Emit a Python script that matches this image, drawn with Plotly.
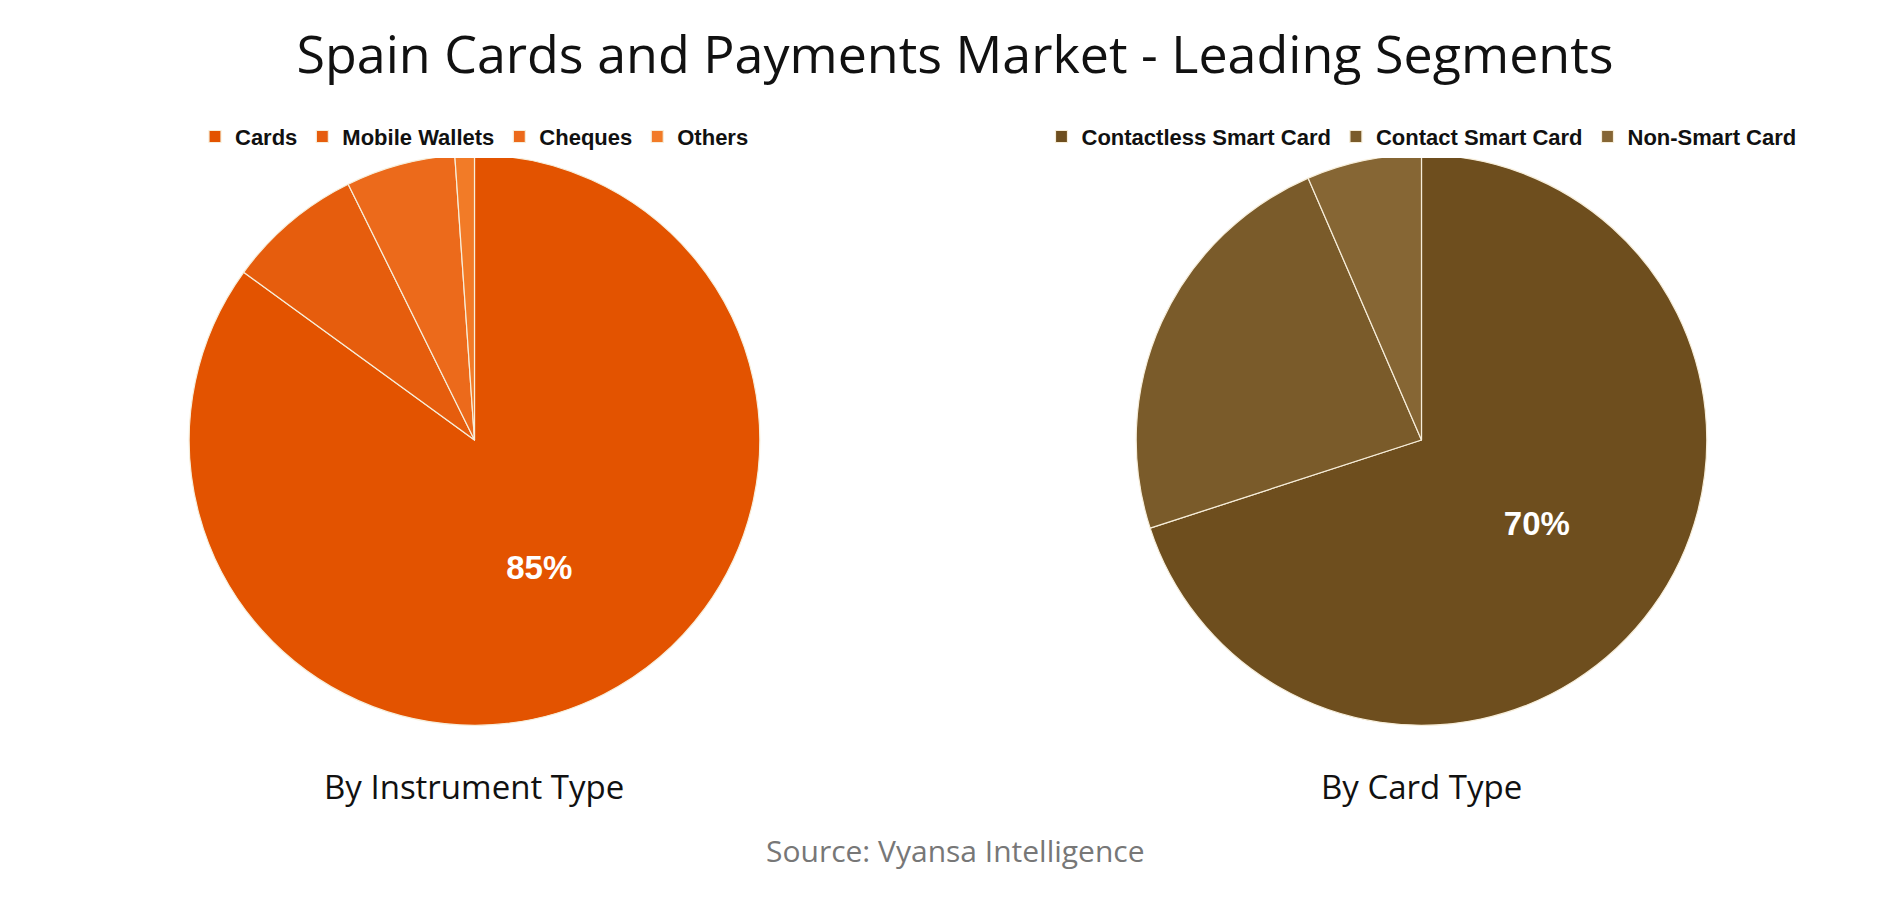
import plotly.graph_objects as go

# dados
instrument_labels = ["Cards", "Mobile Wallets", "Cheques", "Others"]
instrument_share = [85.0, 7.7, 6.2, 1.1]
instrument_colors = ["#E35300", "#E65D0D", "#EC6A1B", "#F27B27"]

card_labels = ["Contactless Smart Card", "Contact Smart Card", "Non-Smart Card"]
card_share = [70.0, 23.5, 6.5]
card_colors = ["#6E4E1E", "#7A5B2A", "#866634"]

title_text = "Spain Cards and Payments Market - Leading Segments"
subtitles = ["By Instrument Type", "By Card Type"]
source_text = "Source: Vyansa Intelligence"


def only_max(values):
    # so a maior fatia recebe rotulo
    top = max(values)
    return [f"{v:.0f}%" if v == top else "" for v in values]


pie_y = [0.203, 0.837]

fig = go.Figure()

fig.add_trace(go.Pie(
    labels=instrument_labels,
    values=instrument_share,
    text=only_max(instrument_share),
    textinfo="text",
    textposition="inside",
    insidetextorientation="horizontal",
    textfont=dict(family="Liberation Sans", size=33, color="white", weight="bold"),
    marker=dict(colors=instrument_colors, line=dict(color="#F7EEDA", width=1.2)),
    sort=False,
    direction="clockwise",
    hoverinfo="label+percent",
    domain=dict(x=[0.0, 0.4926], y=pie_y),
    legend="legend",
))

fig.add_trace(go.Pie(
    labels=card_labels,
    values=card_share,
    text=only_max(card_share),
    textinfo="text",
    textposition="inside",
    insidetextorientation="horizontal",
    textfont=dict(family="Liberation Sans", size=33, color="white", weight="bold"),
    marker=dict(colors=card_colors, line=dict(color="#F7EEDA", width=1.2)),
    sort=False,
    direction="clockwise",
    hoverinfo="label+percent",
    domain=dict(x=[0.5, 0.9926], y=pie_y),
    legend="legend2",
))

legend_font = dict(family="Liberation Sans", size=22, color="#111111", weight="bold")

fig.update_layout(
    width=1894,
    height=900,
    margin=dict(l=0, r=0, t=0, b=0),
    paper_bgcolor="white",
    plot_bgcolor="white",
    title=dict(
        text=title_text,
        x=0.5, xanchor="center",
        y=0.948, yanchor="middle",
        font=dict(family="Open Sans", size=52, color="#111111"),
    ),
    legend=dict(
        orientation="h", x=0.2463, xanchor="center", y=0.857, yanchor="middle",
        font=legend_font, itemwidth=30, traceorder="normal",
    ),
    legend2=dict(
        orientation="h", x=0.7463, xanchor="center", y=0.857, yanchor="middle",
        font=legend_font, itemwidth=30, traceorder="normal",
    ),
    annotations=[
        dict(x=0.2463, y=1 - 778 / 900, xref="paper", yref="paper",
             text=subtitles[0], showarrow=False, xanchor="center", yanchor="middle",
             font=dict(family="Open Sans", size=33, color="#111111")),
        dict(x=0.7463, y=1 - 778 / 900, xref="paper", yref="paper",
             text=subtitles[1], showarrow=False, xanchor="center", yanchor="middle",
             font=dict(family="Open Sans", size=33, color="#111111")),
        dict(x=0.5, y=1 - 842 / 900, xref="paper", yref="paper",
             text=source_text, showarrow=False, xanchor="center", yanchor="middle",
             font=dict(family="Open Sans", size=30, color="#777777")),
    ],
)

fig.write_html("out.html")
